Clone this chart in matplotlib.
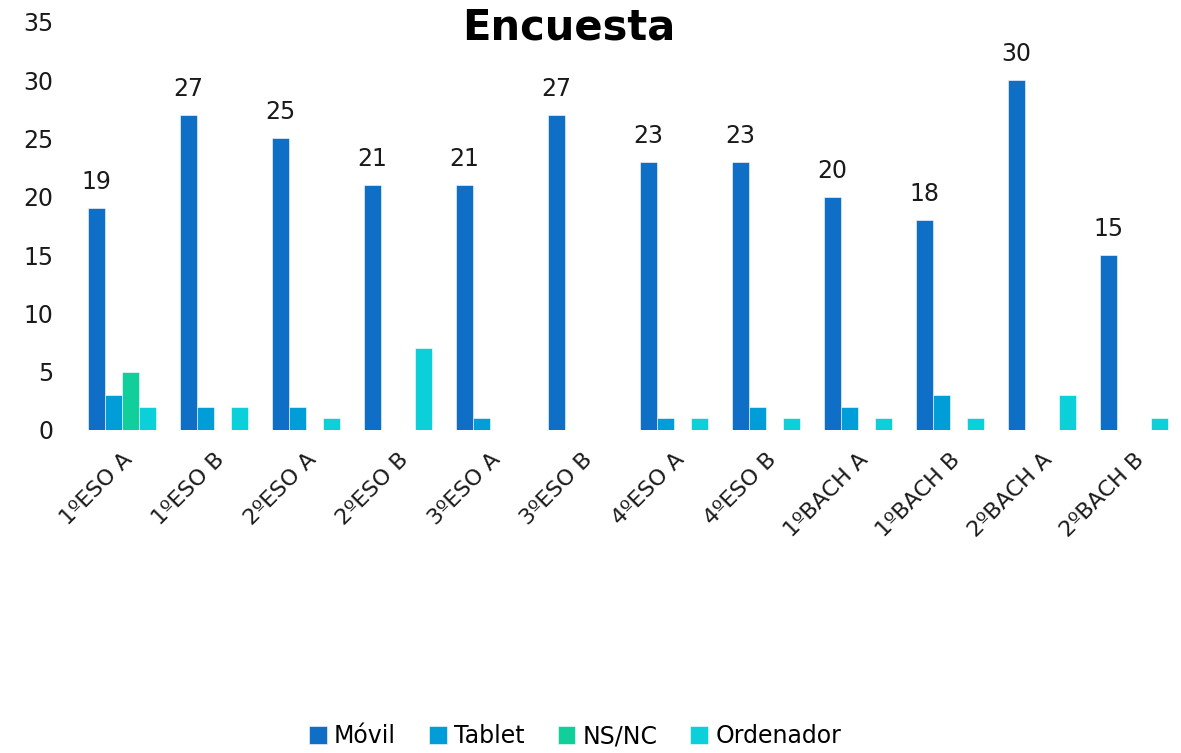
import numpy as np
import matplotlib.pyplot as plt

plt.rcParams['font.family'] = ['DejaVu Sans']

grupos = ['1ºESO A', '1ºESO B', '2ºESO A', '2ºESO B', '3ºESO A', '3ºESO B',
          '4ºESO A', '4ºESO B', '1ºBACH A', '1ºBACH B', '2ºBACH A', '2ºBACH B']
movil = [19, 27, 25, 21, 21, 27, 23, 23, 20, 18, 30, 15]
tablet = [3, 2, 2, 0, 1, 0, 1, 2, 2, 3, 0, 0]
nsnc = [5, 0, 0, 0, 0, 0, 0, 0, 0, 0, 0, 0]
ordenador = [2, 2, 1, 7, 0, 0, 1, 1, 1, 1, 3, 1]

series = [('Móvil', movil, '#0F6FC6'),
          ('Tablet', tablet, '#009DD9'),
          ('NS/NC', nsnc, '#10CF9B'),
          ('Ordenador', ordenador, '#0BD0D9')]

fig = plt.figure(figsize=(11.81, 7.53), dpi=100)
ax = fig.add_axes([0.064, 0.429, 0.935, 0.542])

x = np.arange(len(grupos))
w = 0.185
for i, (name, vals, col) in enumerate(series):
    bars = ax.bar(x + (i - 1.5) * w, vals, w, color=col, label=name,
                  edgecolor='white', linewidth=0.4)
    if name == 'Móvil':
        for b, v in zip(bars, vals):
            ax.text(b.get_x() + b.get_width() / 2, v + 1.2, str(v),
                    ha='center', va='bottom', fontsize=17, color='#1a1a1a')

ax.set_xlim(-0.5, len(grupos) - 0.5)
ax.set_ylim(0, 35)
ax.set_yticks(range(0, 36, 5))
ax.set_xticks(x)
ax.set_xticklabels(grupos, rotation=45, ha='right', rotation_mode='anchor')
ax.tick_params(length=0, labelsize=16, colors='#1a1a1a')
ax.tick_params(axis='y', pad=16, labelsize=17)
ax.tick_params(axis='x', pad=14)
for s in ax.spines.values():
    s.set_visible(False)

fig.text(0.482, 0.963, 'Encuesta', ha='center', va='center',
         fontsize=30, fontweight='bold')

fig.legend(loc='lower center', bbox_to_anchor=(0.487, -0.022), ncol=4,
           frameon=False, fontsize=17, handlelength=0.75, handleheight=0.75,
           handletextpad=0.3, columnspacing=1.4)

fig.savefig('out.png', dpi=100)
